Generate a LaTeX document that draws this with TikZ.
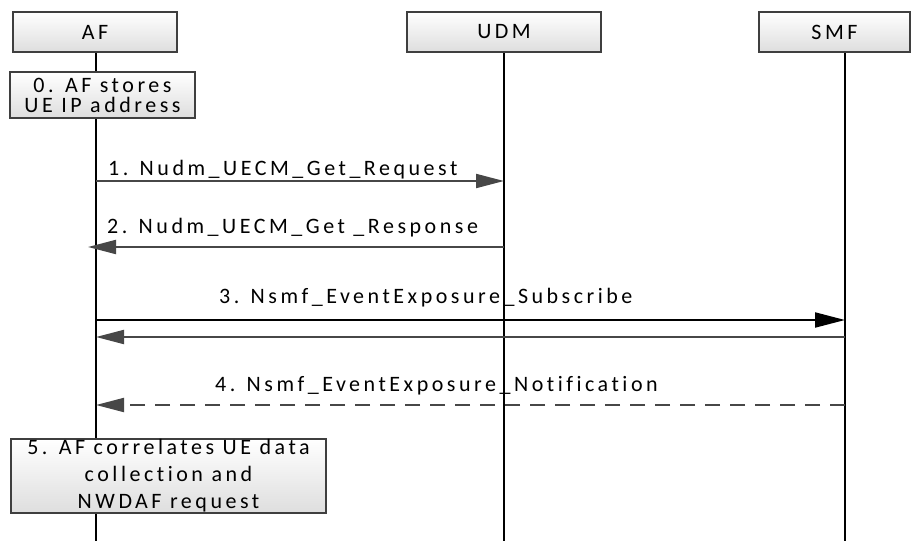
\documentclass[tikz,border=0pt]{standalone}
\usepackage{fontspec}
\setmainfont{Carlito}
\newfontfamily\msgfont[LetterSpace=16,Ligatures={NoCommon}]{Carlito}
\usetikzlibrary{arrows.meta}
\definecolor{boxgray}{HTML}{3F3F3F}
\definecolor{arrowgray}{HTML}{474747}

\begin{document}
\begin{tikzpicture}[x=1pt,y=-1pt,
    box/.style={draw=boxgray,line width=1.5pt,top color=white,bottom color=black!13,
      inner sep=0pt,align=center,font=\msgfont\fontsize{22}{20}\selectfont},
    life/.style={line width=2pt},
    msg/.style={line width=2pt,draw=arrowgray,
      -{Triangle[length=28pt,width=14pt,fill=arrowgray]}},
    lbl/.style={anchor=base west,inner sep=0pt,font=\msgfont\fontsize{22}{24}\selectfont}]
      \useasboundingbox (0,0) rectangle (911,541);
      % lifelines
      \coordinate (aftop) at (96,52);
      \coordinate (afbot) at (96,541);
      \coordinate (udmtop) at (504,52);
      \coordinate (udmbot) at (504,541);
      \coordinate (smftop) at (845,52);
      \coordinate (smfbot) at (845,541);
      \draw[life] (aftop) -- (afbot);
      \draw[life] (udmtop) -- (udmbot);
      \draw[life] (smftop) -- (smfbot);
      \foreach\n\y in {m1/181, m2/247, m3/320, m4/337, m5/405}
      {\coordinate (af\n) at (96,\y);
       \coordinate (udm\n) at (504,\y);
       \coordinate (smf\n) at (845,\y);}

      \node[box,minimum width=164pt,minimum height=40pt] (af) at (95,32) {AF};
      \node[box,minimum width=194pt,minimum height=40pt] (udm) at (504,32) {UDM};
      \node[box,minimum width=151pt,minimum height=40pt] (smf) at (834.5,32) {SMF};
      \node[box,minimum width=185pt,minimum height=46pt] (store) at (102.5,95)
        {0. AF stores\\UE IP address};
      \node[box,minimum width=315pt,minimum height=74pt,
        font=\msgfont\fontsize{22}{27}\selectfont] (corr) at (168.5,476)
        {5. AF correlates UE data\\collection and\\NWDAF request};

      \draw[msg] (afm1) -- (udmm1);
      \draw[msg,shorten >=-8pt] (udmm2) -- (afm2);
      \draw[msg,draw=black,-{Triangle[length=30pt,width=15pt,fill=black]}] (afm3) -- (smfm3);
      \draw[msg] (smfm4) -- (afm4);
      \draw[msg,dash pattern=on 15pt off 10pt] (smfm5) -- (afm5);

      \node[lbl] (l1) at (108,175) {1. Nudm\_UECM\_Get\_Request};
      \node[lbl] (l2) at (107,233) {2. Nudm\_UECM\_Get \_Response};
      \node[lbl] (l3) at (219,303) {3. Nsmf\_EventExposure\_Subscribe};
      \node[lbl] (l4) at (215,391) {4. Nsmf\_EventExposure\_Notification};
    \end{tikzpicture}
\end{document}
